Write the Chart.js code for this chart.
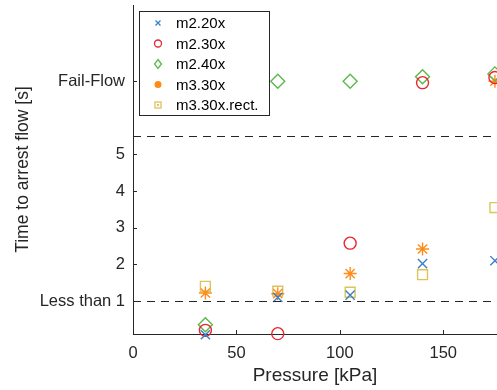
<!DOCTYPE html>
<html>
<head>
<meta charset="utf-8">
<script src="https://cdn.jsdelivr.net/npm/chart.js@4"></script>
<style>
  html, body { margin: 0; padding: 0; background: #fff; }
  #wrap { width: 497px; height: 390px; }
</style>
</head>
<body>
<div id="wrap"><canvas id="myChart"></canvas></div>
<script>
// data
const pressure = [35, 70, 105, 140, 175];
const m220 = [0.08, 1.1, 1.16, 2.02, 2.1];
const m230 = [0.2, 0.11, 2.58, 6.96, 7.1];
const m240 = [0.35, 7.0, 7.0, 7.12, 7.2];
const m330 = [1.22, 1.2, 1.75, 2.42, 7.0];
const m330rect = [1.4, 1.27, 1.24, 1.72, 3.55];

const seriesNames = ['m2.20x', 'm2.30x', 'm2.40x', 'm3.30x', 'm3.30x.rect.'];

const xTicks = [0, 50, 100, 150];
const yTicks = [1, 2, 3, 4, 5, 7];
const yTickLabels = { 1: 'Less than 1', 7: 'Fail-Flow' };
const refLines = [1, 5.5];

const axisColor = '#262626';
const fontFamily = '"Liberation Sans", Arial, sans-serif';

function pts(ys) {
    return pressure.map((x, i) => ({ x: x, y: ys[i] }));
}

const styles = [
    { color: '#3a7fc8', pointStyle: 'crossRot', radius: 6.5 },
    { color: '#e8262d', pointStyle: 'circle', radius: 6 },
    { color: '#5cb84c', pointStyle: 'rectRot', radius: 7 },
    { color: '#ff8c1a', pointStyle: 'star', radius: 6.5 },
    { color: '#dcc45a', pointStyle: 'rect', radius: 7 }
];

const allSeries = [m220, m230, m240, m330, m330rect];

const datasets = allSeries.map((s, i) => ({
    label: seriesNames[i],
    data: pts(s),
    pointStyle: styles[i].pointStyle,
    pointRadius: styles[i].radius,
    pointHoverRadius: styles[i].radius,
    borderColor: styles[i].color,
    backgroundColor: 'rgba(0,0,0,0)',
    pointBorderWidth: 1.4,
    showLine: false,
    clip: false
}));

function noPad(s) {
    s.paddingTop = 0;
    s.paddingBottom = 0;
    s.paddingLeft = 0;
    s.paddingRight = 0;
}

// dashed lines, inward ticks and the boxed legend
const extras = {
    id: 'extras',
    afterDatasetsDraw(chart) {
        const c = chart.ctx;
        const area = chart.chartArea;
        const xs = chart.scales.x;
        const ys = chart.scales.y;
        c.save();
        c.strokeStyle = axisColor;
        c.lineWidth = 1;
        c.setLineDash([8, 6]);
        refLines.forEach(v => {
            const py = Math.round(ys.getPixelForValue(v)) + 0.5;
            c.beginPath();
            c.moveTo(area.left, py);
            c.lineTo(area.right, py);
            c.stroke();
        });
        c.setLineDash([]);
        yTicks.forEach(v => {
            const py = Math.round(ys.getPixelForValue(v)) + 0.5;
            c.beginPath();
            c.moveTo(area.left, py);
            c.lineTo(area.left + 4, py);
            c.stroke();
        });
        xTicks.forEach(v => {
            const px = Math.round(xs.getPixelForValue(v)) + 0.5;
            c.beginPath();
            c.moveTo(px, area.bottom);
            c.lineTo(px, area.bottom - 4);
            c.stroke();
        });

        // legend
        const bx = 139.5, by = 11.5, bw = 130, bh = 104;
        c.fillStyle = '#fff';
        c.fillRect(bx, by, bw, bh);
        c.strokeStyle = axisColor;
        c.strokeRect(bx, by, bw, bh);
        c.font = '15px ' + fontFamily;
        c.textBaseline = 'middle';
        seriesNames.forEach((name, i) => {
            const ly = 23 + i * 20.5;
            const mx = 158;
            const col = styles[i].color;
            c.strokeStyle = col;
            c.fillStyle = col;
            c.lineWidth = 1.3;
            c.beginPath();
            if (i === 0) {
                c.moveTo(mx - 2.5, ly - 2.5); c.lineTo(mx + 2.5, ly + 2.5);
                c.moveTo(mx - 2.5, ly + 2.5); c.lineTo(mx + 2.5, ly - 2.5);
                c.stroke();
            } else if (i === 1) {
                c.arc(mx, ly, 3.5, 0, Math.PI * 2);
                c.stroke();
            } else if (i === 2) {
                c.moveTo(mx, ly - 4.5); c.lineTo(mx + 3.5, ly);
                c.lineTo(mx, ly + 4.5); c.lineTo(mx - 3.5, ly);
                c.closePath();
                c.stroke();
            } else if (i === 3) {
                c.arc(mx, ly, 3.5, 0, Math.PI * 2);
                c.fill();
            } else {
                c.strokeRect(mx - 3, ly - 3, 6, 6);
                c.fillRect(mx - 1, ly - 1, 2, 2);
            }
            c.fillStyle = '#000';
            c.fillText(name, 176, ly + 1);
        });
        c.restore();
    }
};

const config = {
    type: 'scatter',
    data: { datasets: datasets },
    options: {
        animation: false,
        responsive: true,
        maintainAspectRatio: false,
        layout: { autoPadding: false, padding: { top: 5, right: 0, bottom: 0, left: 0 } },
        plugins: {
            legend: { display: false },
            tooltip: { enabled: false }
        },
        scales: {
            x: {
                type: 'linear',
                min: 0,
                max: 176,
                afterBuildTicks: s => { s.ticks = xTicks.map(v => ({ value: v })); },
                afterFit: s => { s.height = 56; noPad(s); },
                grid: { display: true, drawOnChartArea: false, drawTicks: false },
                border: { display: true, color: axisColor, width: 1 },
                ticks: {
                    color: axisColor,
                    padding: 10,
                    maxRotation: 0,
                    font: { family: fontFamily, size: 16.5 }
                },
                title: {
                    display: true,
                    text: 'Pressure [kPa]',
                    color: axisColor,
                    padding: { top: 2, bottom: 3 },
                    font: { family: fontFamily, size: 19 }
                }
            },
            y: {
                type: 'linear',
                min: 0.1,
                max: 9.08,
                afterBuildTicks: s => { s.ticks = yTicks.map(v => ({ value: v })); },
                afterFit: s => { s.width = 133; noPad(s); },
                grid: { display: true, drawOnChartArea: false, drawTicks: false },
                border: { display: true, color: axisColor, width: 1 },
                ticks: {
                    color: axisColor,
                    padding: 8,
                    font: { family: fontFamily, size: 16.5 },
                    callback: v => yTickLabels[v] || String(v)
                },
                title: {
                    display: true,
                    text: 'Time to arrest flow [s]',
                    color: axisColor,
                    padding: { top: 13, bottom: 0 },
                    font: { family: fontFamily, size: 17.5 }
                }
            }
        }
    },
    plugins: [extras]
};

const myChart = new Chart(document.getElementById('myChart'), config);
</script>
</body>
</html>
